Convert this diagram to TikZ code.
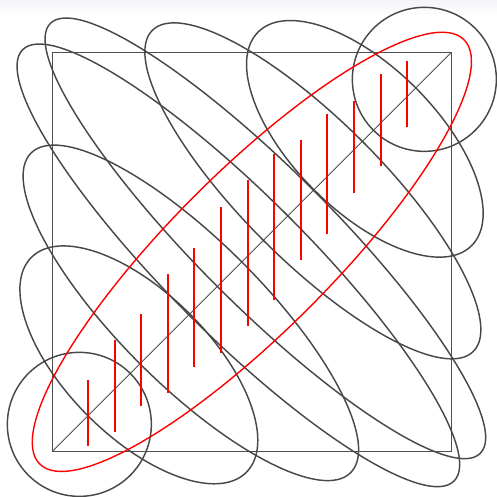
\documentclass[tikz,border=0pt]{standalone}
\begin{document}
\begin{tikzpicture}[x=1pt,y=1pt,
  grayell/.style={draw={rgb,255:red,72;green,72;blue,72}, line width=1.45pt},
  frame/.style={draw={rgb,255:red,80;green,80;blue,80}, line width=0.9pt},
  redline/.style={draw=red, line width=1.5pt},
  redell/.style={draw=red, line width=1.4pt}]
\useasboundingbox (0,0) rectangle (497,496);
\fill[white] (0,0) rectangle (497,496);
\shade[top color={rgb,255:red,243;green,243;blue,249}, bottom color=white] (0,481) rectangle (497,496);
% frame and diagonal
\draw[frame] (52.7,45) rectangle (451,443.3);
\draw[frame] (52.7,45) -- (451,443.3);
% gray ellipses centred on the diagonal, perpendicular to it
\foreach \cx/\a/\b in {79.35/72/72, 138.85/152/72, 190.85/226/72, 238.35/305/70,
                       265.35/304/68, 312.85/227/70, 364.85/151/72, 424.35/72/72}
  \draw[grayell, rotate around={-45:(\cx,{\cx-7.7})}] (\cx,{\cx-7.7}) ellipse [x radius=\a, y radius=\b];
% red ellipse
\draw[redell, rotate around={45:(251.85,244.15)}] (251.85,244.15) ellipse [x radius=300, y radius=80];
% red vertical segments
\foreach \xx/\L in {88/66,115/92.5,141/92.5,168/119,194/119,221/146,248/146,
                    274/146,301/119,327/119,354/92.5,381/92.5,407/66}{
  \draw[redline] (\xx,{\xx-5-\L/2}) -- (\xx,{\xx-5+\L/2});
}
\end{tikzpicture}
\end{document}
